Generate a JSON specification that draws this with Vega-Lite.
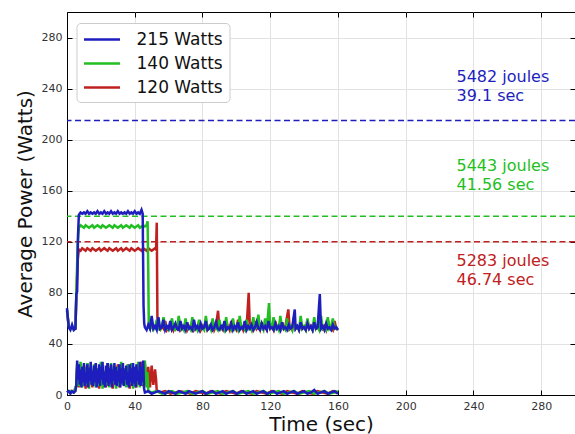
{
"$schema": "https://vega.github.io/schema/vega-lite/v6.json",
"width": 508, "height": 383,
"autosize": {"type": "none"},
"padding": {"left": 67, "top": 12, "right": 0, "bottom": 39},
"background": "white",
"config": {"view": {"stroke": "black", "strokeWidth": 1}, "font": "DejaVu Sans"},
"resolve": {"axis": {"x": "independent", "y": "independent"}},
"datasets": {
"thr": [{"s": "215 Watts", "v": 215}, {"s": "140 Watts", "v": 140}, {"s": "120 Watts", "v": 120}],
"txt": [
{"s": "215 Watts", "t": 230, "p": 248.7, "l": "5482 joules"},
{"s": "215 Watts", "t": 230, "p": 234, "l": "39.1 sec"},
{"s": "140 Watts", "t": 230, "p": 179.3, "l": "5443 joules"},
{"s": "140 Watts", "t": 230, "p": 164.4, "l": "41.56 sec"},
{"s": "120 Watts", "t": 230, "p": 105.1, "l": "5283 joules"},
{"s": "120 Watts", "t": 230, "p": 90, "l": "46.74 sec"}],
"ru": [{"t":0,"p":66},{"t":1,"p":54},{"t":2,"p":52},{"t":3,"p":53},{"t":4,"p":52},{"t":5,"p":52},{"t":5.5,"p":77},{"t":6.3,"p":105},{"t":7,"p":114},{"t":8,"p":113},{"t":9,"p":115},{"t":10,"p":114},{"t":11,"p":113},{"t":12,"p":115},{"t":13,"p":114},{"t":14,"p":113},{"t":15,"p":115},{"t":16,"p":114},{"t":17,"p":113},{"t":18,"p":114},{"t":19,"p":115},{"t":20,"p":113},{"t":21,"p":114},{"t":22,"p":115},{"t":23,"p":114},{"t":24,"p":113},{"t":25,"p":115},{"t":26,"p":114},{"t":27,"p":113},{"t":28,"p":114},{"t":29,"p":115},{"t":30,"p":113},{"t":31,"p":114},{"t":32,"p":115},{"t":33,"p":113},{"t":34,"p":114},{"t":35,"p":115},{"t":36,"p":114},{"t":37,"p":113},{"t":38,"p":115},{"t":39,"p":114},{"t":40,"p":113},{"t":41,"p":114},{"t":42,"p":115},{"t":43,"p":114},{"t":44,"p":113},{"t":45,"p":115},{"t":46,"p":114},{"t":47,"p":113},{"t":48,"p":115},{"t":49,"p":114},{"t":50,"p":113},{"t":51,"p":114},{"t":52,"p":115},{"t":52.6,"p":114},{"t":53,"p":135},{"t":53.4,"p":60},{"t":53.8,"p":52},{"t":55,"p":51},{"t":56,"p":54},{"t":57,"p":52},{"t":58,"p":58},{"t":59,"p":51},{"t":60,"p":53},{"t":61,"p":52},{"t":62,"p":57},{"t":63,"p":51},{"t":64,"p":54},{"t":65,"p":52},{"t":66,"p":59},{"t":67,"p":51},{"t":68,"p":53},{"t":69,"p":52},{"t":70,"p":57},{"t":71,"p":51},{"t":72,"p":54},{"t":73,"p":52},{"t":74,"p":58},{"t":75,"p":51},{"t":76,"p":53},{"t":77,"p":52},{"t":78,"p":57},{"t":79,"p":51},{"t":80,"p":54},{"t":81,"p":52},{"t":82,"p":59},{"t":83,"p":51},{"t":84,"p":53},{"t":85,"p":52},{"t":86,"p":58},{"t":87,"p":51},{"t":88,"p":54},{"t":89.2,"p":66},{"t":90,"p":52},{"t":91,"p":53},{"t":92,"p":51},{"t":93,"p":57},{"t":94,"p":52},{"t":95,"p":54},{"t":96,"p":51},{"t":97,"p":58},{"t":98,"p":52},{"t":99,"p":53},{"t":100,"p":51},{"t":101,"p":59},{"t":102,"p":52},{"t":103,"p":54},{"t":104,"p":51},{"t":105,"p":57},{"t":106,"p":52},{"t":107.3,"p":80},{"t":108,"p":52},{"t":109,"p":53},{"t":110,"p":51},{"t":111,"p":58},{"t":112,"p":52},{"t":113,"p":54},{"t":114,"p":51},{"t":115,"p":57},{"t":116,"p":52},{"t":117,"p":53},{"t":118,"p":51},{"t":119,"p":59},{"t":120,"p":52},{"t":121,"p":54},{"t":122,"p":51},{"t":123,"p":58},{"t":124,"p":52},{"t":125,"p":53},{"t":126,"p":51},{"t":127,"p":57},{"t":128,"p":52},{"t":129,"p":54},{"t":130.7,"p":67},{"t":131.5,"p":52},{"t":132,"p":53},{"t":133,"p":51},{"t":134,"p":58},{"t":135,"p":52},{"t":136,"p":54},{"t":137,"p":51},{"t":138,"p":57},{"t":139,"p":52},{"t":140,"p":53},{"t":141,"p":51},{"t":142,"p":59},{"t":143,"p":52},{"t":144,"p":54},{"t":145,"p":51},{"t":146,"p":58},{"t":147,"p":52},{"t":148,"p":53},{"t":149,"p":51},{"t":150,"p":57},{"t":151,"p":52},{"t":152,"p":54},{"t":153,"p":51},{"t":154,"p":59},{"t":155,"p":52},{"t":156,"p":53},{"t":157,"p":51},{"t":158,"p":58},{"t":159,"p":52},{"t":160,"p":51}],
"rl": [{"t":0,"p":2},{"t":2,"p":3},{"t":4,"p":2},{"t":5.5,"p":7},{"t":6,"p":22},{"t":7,"p":6},{"t":8,"p":24},{"t":9,"p":7},{"t":10,"p":23},{"t":11,"p":5},{"t":12,"p":25},{"t":13,"p":8},{"t":14,"p":22},{"t":15,"p":6},{"t":16,"p":20},{"t":17,"p":9},{"t":18,"p":19},{"t":19,"p":5},{"t":20,"p":21},{"t":21,"p":8},{"t":22,"p":18},{"t":23,"p":6},{"t":24,"p":25},{"t":25,"p":7},{"t":26,"p":23},{"t":27,"p":5},{"t":28,"p":19},{"t":29,"p":8},{"t":30,"p":24},{"t":31,"p":6},{"t":32,"p":23},{"t":33,"p":9},{"t":34,"p":18},{"t":35,"p":7},{"t":36,"p":24},{"t":37,"p":5},{"t":38,"p":23},{"t":39,"p":8},{"t":40,"p":21},{"t":41,"p":6},{"t":42,"p":19},{"t":43,"p":9},{"t":44,"p":26},{"t":45,"p":7},{"t":46,"p":24},{"t":47,"p":8},{"t":48,"p":22},{"t":49,"p":6},{"t":50,"p":23},{"t":51,"p":8},{"t":52,"p":20},{"t":52.6,"p":12},{"t":53,"p":3},{"t":55,"p":2},{"t":58,"p":3},{"t":61,"p":1},{"t":64,"p":2},{"t":67,"p":3},{"t":70,"p":2},{"t":73,"p":1},{"t":76,"p":3},{"t":79,"p":2},{"t":82,"p":1},{"t":85,"p":3},{"t":88,"p":2},{"t":91,"p":1},{"t":94,"p":3},{"t":97,"p":2},{"t":100,"p":1},{"t":103,"p":3},{"t":106,"p":2},{"t":109,"p":1},{"t":112,"p":3},{"t":115,"p":2},{"t":118,"p":1},{"t":121,"p":3},{"t":124,"p":2},{"t":127,"p":1},{"t":130,"p":3},{"t":133,"p":2},{"t":136,"p":1},{"t":139,"p":3},{"t":142,"p":2},{"t":145,"p":1},{"t":148,"p":3},{"t":151,"p":2},{"t":154,"p":1},{"t":157,"p":3},{"t":160,"p":2}],
"gu": [{"t":0,"p":67},{"t":1,"p":54},{"t":2,"p":52},{"t":3,"p":53},{"t":4,"p":51},{"t":5,"p":53},{"t":5.5,"p":78},{"t":6.3,"p":118},{"t":7,"p":131},{"t":8,"p":133},{"t":9,"p":132},{"t":10,"p":131},{"t":11,"p":133},{"t":12,"p":132},{"t":13,"p":131},{"t":14,"p":132},{"t":15,"p":133},{"t":16,"p":131},{"t":17,"p":132},{"t":18,"p":133},{"t":19,"p":132},{"t":20,"p":131},{"t":21,"p":133},{"t":22,"p":132},{"t":23,"p":131},{"t":24,"p":132},{"t":25,"p":133},{"t":26,"p":132},{"t":27,"p":131},{"t":28,"p":133},{"t":29,"p":132},{"t":30,"p":131},{"t":31,"p":132},{"t":32,"p":133},{"t":33,"p":131},{"t":34,"p":132},{"t":35,"p":133},{"t":36,"p":132},{"t":37,"p":131},{"t":38,"p":133},{"t":39,"p":132},{"t":40,"p":131},{"t":41,"p":132},{"t":42,"p":133},{"t":43,"p":131},{"t":44,"p":132},{"t":45,"p":133},{"t":46,"p":132},{"t":47,"p":133},{"t":47.6,"p":136},{"t":48,"p":95},{"t":48.3,"p":55},{"t":49,"p":52},{"t":50,"p":54},{"t":51,"p":51},{"t":52,"p":53},{"t":53,"p":59},{"t":54,"p":52},{"t":55,"p":51},{"t":56,"p":54},{"t":57,"p":61},{"t":58,"p":52},{"t":59,"p":53},{"t":60,"p":51},{"t":61,"p":55},{"t":62,"p":60},{"t":63,"p":52},{"t":64,"p":51},{"t":65,"p":53},{"t":66,"p":62},{"t":67,"p":52},{"t":68,"p":54},{"t":69,"p":51},{"t":70,"p":60},{"t":71,"p":52},{"t":72,"p":53},{"t":73,"p":51},{"t":74,"p":61},{"t":75,"p":52},{"t":76,"p":54},{"t":77,"p":51},{"t":78,"p":59},{"t":79,"p":52},{"t":80,"p":53},{"t":81,"p":51},{"t":82,"p":62},{"t":83,"p":52},{"t":84,"p":54},{"t":85,"p":51},{"t":86,"p":60},{"t":87,"p":52},{"t":88,"p":53},{"t":89,"p":51},{"t":90,"p":59},{"t":91,"p":52},{"t":92,"p":54},{"t":93,"p":51},{"t":94,"p":61},{"t":95,"p":52},{"t":96,"p":53},{"t":97,"p":51},{"t":98,"p":60},{"t":99,"p":52},{"t":100,"p":54},{"t":101,"p":51},{"t":102,"p":62},{"t":103,"p":52},{"t":104,"p":53},{"t":105,"p":51},{"t":106,"p":59},{"t":107,"p":52},{"t":108,"p":54},{"t":109,"p":51},{"t":110,"p":61},{"t":111,"p":52},{"t":112,"p":53},{"t":113,"p":63},{"t":114,"p":52},{"t":115,"p":54},{"t":116,"p":51},{"t":117,"p":60},{"t":118,"p":52},{"t":119.3,"p":72},{"t":120,"p":52},{"t":121,"p":53},{"t":122,"p":61},{"t":123,"p":52},{"t":124,"p":54},{"t":125,"p":51},{"t":126,"p":62},{"t":127,"p":52},{"t":128,"p":53},{"t":129,"p":51},{"t":130,"p":60},{"t":131,"p":52},{"t":132,"p":54},{"t":133,"p":51},{"t":134,"p":61},{"t":135,"p":52},{"t":136,"p":53},{"t":137,"p":51},{"t":138,"p":62},{"t":139,"p":52},{"t":140,"p":54},{"t":141,"p":51},{"t":142,"p":60},{"t":143,"p":52},{"t":144,"p":53},{"t":145,"p":51},{"t":146,"p":61},{"t":147,"p":52},{"t":148,"p":54},{"t":149,"p":51},{"t":150,"p":62},{"t":151,"p":52},{"t":152,"p":53},{"t":153,"p":51},{"t":154,"p":61},{"t":155,"p":52},{"t":156,"p":54},{"t":157,"p":60},{"t":158,"p":52},{"t":159,"p":53},{"t":160,"p":51}],
"gl": [{"t":0,"p":2},{"t":2,"p":3},{"t":4,"p":2},{"t":5.5,"p":8},{"t":6,"p":24},{"t":7,"p":7},{"t":8,"p":26},{"t":9,"p":6},{"t":10,"p":22},{"t":11,"p":8},{"t":12,"p":25},{"t":13,"p":5},{"t":14,"p":20},{"t":15,"p":9},{"t":16,"p":24},{"t":17,"p":6},{"t":18,"p":21},{"t":19,"p":7},{"t":20,"p":26},{"t":21,"p":5},{"t":22,"p":19},{"t":23,"p":8},{"t":24,"p":23},{"t":25,"p":6},{"t":26,"p":25},{"t":27,"p":9},{"t":28,"p":20},{"t":29,"p":5},{"t":30,"p":22},{"t":31,"p":7},{"t":32,"p":26},{"t":33,"p":8},{"t":34,"p":21},{"t":35,"p":6},{"t":36,"p":24},{"t":37,"p":9},{"t":38,"p":25},{"t":39,"p":5},{"t":40,"p":20},{"t":41,"p":7},{"t":42,"p":26},{"t":43,"p":6},{"t":44,"p":22},{"t":45,"p":8},{"t":46,"p":27},{"t":47,"p":6},{"t":47.5,"p":18},{"t":48,"p":3},{"t":50,"p":2},{"t":53,"p":3},{"t":56,"p":1},{"t":59,"p":2},{"t":62,"p":3},{"t":65,"p":1},{"t":68,"p":2},{"t":71,"p":3},{"t":74,"p":1},{"t":77,"p":2},{"t":80,"p":3},{"t":83,"p":1},{"t":86,"p":2},{"t":89,"p":3},{"t":92,"p":1},{"t":95,"p":2},{"t":98,"p":3},{"t":101,"p":1},{"t":104,"p":2},{"t":107,"p":3},{"t":110,"p":1},{"t":113,"p":2},{"t":116,"p":3},{"t":119,"p":1},{"t":122,"p":2},{"t":125,"p":3},{"t":128,"p":1},{"t":131,"p":2},{"t":134,"p":3},{"t":137,"p":1},{"t":140,"p":2},{"t":143,"p":3},{"t":146,"p":1},{"t":149,"p":2},{"t":152,"p":3},{"t":155,"p":1},{"t":158,"p":2},{"t":160,"p":3}],
"bu": [{"t":0,"p":68},{"t":1,"p":53},{"t":2,"p":51},{"t":3,"p":55},{"t":4,"p":51},{"t":5,"p":52},{"t":5.5,"p":79},{"t":6,"p":81},{"t":6.5,"p":125},{"t":7,"p":141},{"t":8,"p":143},{"t":9,"p":142},{"t":10,"p":143},{"t":11,"p":142},{"t":12,"p":144},{"t":13,"p":142},{"t":14,"p":143},{"t":15,"p":142},{"t":16,"p":143},{"t":17,"p":142},{"t":18,"p":144},{"t":19,"p":142},{"t":20,"p":143},{"t":21,"p":142},{"t":22,"p":144},{"t":23,"p":142},{"t":24,"p":143},{"t":25,"p":142},{"t":26,"p":144},{"t":27,"p":142},{"t":28,"p":143},{"t":29,"p":142},{"t":30,"p":144},{"t":31,"p":142},{"t":32,"p":143},{"t":33,"p":142},{"t":34,"p":143},{"t":35,"p":142},{"t":36,"p":144},{"t":37,"p":142},{"t":38,"p":143},{"t":39,"p":142},{"t":40,"p":144},{"t":41,"p":142},{"t":42,"p":143},{"t":43,"p":142},{"t":44,"p":145},{"t":44.7,"p":142},{"t":45.2,"p":70},{"t":45.6,"p":56},{"t":46,"p":53},{"t":47,"p":51},{"t":48,"p":55},{"t":49,"p":52},{"t":50,"p":62},{"t":51,"p":52},{"t":52,"p":54},{"t":53,"p":51},{"t":54,"p":61},{"t":55,"p":52},{"t":56,"p":53},{"t":57,"p":59},{"t":58,"p":51},{"t":59,"p":54},{"t":60,"p":52},{"t":61,"p":58},{"t":62,"p":51},{"t":63,"p":53},{"t":64,"p":56},{"t":65,"p":52},{"t":66,"p":51},{"t":67,"p":58},{"t":68,"p":52},{"t":69,"p":54},{"t":70,"p":51},{"t":71,"p":57},{"t":72,"p":52},{"t":73,"p":53},{"t":74,"p":51},{"t":75,"p":59},{"t":76,"p":52},{"t":77,"p":54},{"t":78,"p":51},{"t":79,"p":56},{"t":80,"p":52},{"t":81,"p":53},{"t":82,"p":58},{"t":83,"p":51},{"t":84,"p":52},{"t":85,"p":55},{"t":86,"p":51},{"t":87,"p":53},{"t":88,"p":57},{"t":89,"p":52},{"t":90,"p":51},{"t":91,"p":54},{"t":92,"p":52},{"t":93,"p":58},{"t":94,"p":51},{"t":95,"p":53},{"t":96,"p":52},{"t":97,"p":56},{"t":98,"p":51},{"t":99,"p":54},{"t":100,"p":52},{"t":101,"p":57},{"t":102,"p":51},{"t":103,"p":53},{"t":104,"p":52},{"t":105,"p":58},{"t":106,"p":51},{"t":107,"p":54},{"t":108,"p":52},{"t":109,"p":55},{"t":110,"p":51},{"t":111,"p":53},{"t":112,"p":57},{"t":113,"p":52},{"t":114,"p":51},{"t":115,"p":56},{"t":116,"p":52},{"t":117,"p":54},{"t":118,"p":51},{"t":119,"p":58},{"t":120,"p":52},{"t":121,"p":53},{"t":122,"p":51},{"t":123,"p":56},{"t":124,"p":52},{"t":125,"p":54},{"t":126,"p":51},{"t":127,"p":57},{"t":128,"p":52},{"t":129,"p":53},{"t":130,"p":51},{"t":131,"p":55},{"t":132,"p":52},{"t":133,"p":53},{"t":134.5,"p":67},{"t":135,"p":52},{"t":136,"p":54},{"t":137,"p":51},{"t":138,"p":57},{"t":139,"p":52},{"t":140,"p":53},{"t":141,"p":51},{"t":142,"p":56},{"t":143,"p":52},{"t":144,"p":54},{"t":145,"p":51},{"t":146,"p":57},{"t":147,"p":52},{"t":148,"p":53},{"t":149.3,"p":79},{"t":150,"p":52},{"t":151,"p":54},{"t":152,"p":51},{"t":153,"p":56},{"t":154,"p":52},{"t":155,"p":53},{"t":156,"p":51},{"t":157,"p":55},{"t":158,"p":52},{"t":159,"p":53},{"t":160,"p":51}],
"bl": [{"t":0,"p":2},{"t":1,"p":3},{"t":2,"p":1},{"t":3,"p":3},{"t":4,"p":2},{"t":5,"p":3},{"t":5.5,"p":8},{"t":6,"p":27},{"t":6.5,"p":12},{"t":7,"p":24},{"t":7.5,"p":8},{"t":8,"p":20},{"t":8.5,"p":6},{"t":9,"p":22},{"t":9.5,"p":10},{"t":10,"p":25},{"t":10.5,"p":7},{"t":11,"p":18},{"t":11.5,"p":9},{"t":12,"p":24},{"t":12.5,"p":6},{"t":13,"p":21},{"t":13.5,"p":11},{"t":14,"p":26},{"t":14.5,"p":8},{"t":15,"p":19},{"t":15.5,"p":7},{"t":16,"p":23},{"t":16.5,"p":10},{"t":17,"p":25},{"t":17.5,"p":6},{"t":18,"p":20},{"t":18.5,"p":9},{"t":19,"p":24},{"t":19.5,"p":7},{"t":20,"p":22},{"t":20.5,"p":12},{"t":21,"p":26},{"t":21.5,"p":8},{"t":22,"p":18},{"t":22.5,"p":6},{"t":23,"p":23},{"t":23.5,"p":10},{"t":24,"p":25},{"t":24.5,"p":7},{"t":25,"p":21},{"t":25.5,"p":9},{"t":26,"p":24},{"t":26.5,"p":6},{"t":27,"p":20},{"t":27.5,"p":11},{"t":28,"p":25},{"t":28.5,"p":8},{"t":29,"p":22},{"t":29.5,"p":7},{"t":30,"p":19},{"t":30.5,"p":10},{"t":31,"p":24},{"t":31.5,"p":6},{"t":32,"p":21},{"t":32.5,"p":9},{"t":33,"p":25},{"t":33.5,"p":7},{"t":34,"p":20},{"t":34.5,"p":12},{"t":35,"p":23},{"t":35.5,"p":8},{"t":36,"p":18},{"t":36.5,"p":6},{"t":37,"p":24},{"t":37.5,"p":10},{"t":38,"p":21},{"t":38.5,"p":7},{"t":39,"p":25},{"t":39.5,"p":9},{"t":40,"p":22},{"t":40.5,"p":6},{"t":41,"p":24},{"t":41.5,"p":11},{"t":42,"p":19},{"t":42.5,"p":8},{"t":43,"p":26},{"t":43.5,"p":7},{"t":44,"p":22},{"t":44.5,"p":10},{"t":45,"p":27},{"t":45.5,"p":5},{"t":46,"p":2},{"t":48,"p":3},{"t":50,"p":1},{"t":52,"p":2},{"t":54,"p":3},{"t":56,"p":2},{"t":58,"p":1},{"t":60,"p":3},{"t":62,"p":2},{"t":64,"p":1},{"t":66,"p":3},{"t":68,"p":2},{"t":70,"p":1},{"t":72,"p":3},{"t":74,"p":2},{"t":76,"p":1},{"t":78,"p":2},{"t":80,"p":3},{"t":82,"p":1},{"t":84,"p":2},{"t":86,"p":3},{"t":88,"p":1},{"t":90,"p":2},{"t":92,"p":3},{"t":94,"p":1},{"t":96,"p":2},{"t":98,"p":3},{"t":100,"p":1},{"t":102,"p":2},{"t":104,"p":3},{"t":106,"p":1},{"t":108,"p":2},{"t":110,"p":3},{"t":112,"p":1},{"t":114,"p":2},{"t":116,"p":3},{"t":118,"p":1},{"t":120,"p":2},{"t":122,"p":3},{"t":124,"p":1},{"t":126,"p":2},{"t":128,"p":3},{"t":130,"p":1},{"t":132,"p":2},{"t":134,"p":3},{"t":136,"p":1},{"t":138,"p":2},{"t":140,"p":3},{"t":142,"p":1},{"t":144,"p":2},{"t":146,"p":4},{"t":148,"p":1},{"t":150,"p":2},{"t":152,"p":3},{"t":154,"p":1},{"t":156,"p":2},{"t":158,"p":3},{"t":160,"p":1}]
},
"layer": [
{"data": {"name": "thr"},
 "mark": {"type": "rule", "strokeDash": [6, 3.5], "strokeWidth": 1.5},
 "encoding": {
  "y": {"field": "v", "type": "quantitative", "scale": {"domain": [0, 300], "nice": false}, "axis": null},
  "color": {"field": "s", "type": "nominal", "title": null, "scale": {"domain": ["215 Watts", "140 Watts", "120 Watts"], "range": ["#1e1ebe", "#22bf22", "#bf2020"]}}}},
{"data": {"name": "rl"},
 "mark": {"type": "line", "strokeWidth": 2.5},
 "encoding": {
  "x": {"field": "t", "type": "quantitative", "scale": {"domain": [0, 300], "nice": false},
   "axis": {"orient": "bottom", "values": [0, 40, 80, 120, 160, 200, 240, 280], "title": "Time (sec)", "titleFontSize": 20, "titleFontWeight": "normal", "titleColor": "#111", "titlePadding": 3, "labelFontSize": 11, "labelColor": "#333", "labelPadding": 10, "labelFlush": false, "tickSize": -5, "tickColor": "black", "domainColor": "black", "grid": true, "gridColor": "#e2e2e2"}},
  "y": {"field": "p", "type": "quantitative",
   "axis": {"orient": "left", "values": [0, 40, 80, 120, 160, 200, 240, 280], "title": "Average Power (Watts)", "titleFontSize": 20, "titleFontWeight": "normal", "titleColor": "#111", "titlePadding": 6, "labelFontSize": 11, "labelColor": "#333", "labelPadding": 10, "labelFlush": false, "tickSize": -5, "tickColor": "black", "domainColor": "black", "grid": true, "gridColor": "#e2e2e2"}},
  "color": {"datum": "120 Watts", "title": null,
   "legend": {"orient": "none", "legendX": 9.5, "legendY": 11, "title": null, "symbolType": "M-1,0H3", "symbolSize": 324, "symbolStrokeWidth": 2.5, "symbolFillColor": "transparent", "labelFontSize": 17, "labelColor": "#111", "labelFont": "DejaVu Sans", "labelOffset": 33, "rowPadding": 5, "padding": 6, "strokeColor": "#cccccc", "fillColor": "white", "cornerRadius": 4, "values": ["215 Watts", "140 Watts", "120 Watts"]}}}},
{"data": {"name": "ru"},
 "mark": {"type": "line", "strokeWidth": 2.5},
 "encoding": {
  "x": {"field": "t", "type": "quantitative", "axis": {"orient": "top", "values": [0, 40, 80, 120, 160, 200, 240, 280], "labels": false, "title": null, "grid": false, "domain": false, "tickSize": -5, "tickColor": "black"}},
  "y": {"field": "p", "type": "quantitative", "axis": {"orient": "right", "values": [0, 40, 80, 120, 160, 200, 240, 280], "labels": false, "title": null, "grid": false, "domain": false, "tickSize": -5, "tickColor": "black"}},
  "color": {"datum": "120 Watts", "title": null}}},
{"data": {"name": "gl"},
 "mark": {"type": "line", "strokeWidth": 2.5},
 "encoding": {"x": {"field": "t", "type": "quantitative", "axis": null}, "y": {"field": "p", "type": "quantitative", "axis": null}, "color": {"datum": "140 Watts", "title": null}}},
{"data": {"name": "gu"},
 "mark": {"type": "line", "strokeWidth": 2.5},
 "encoding": {"x": {"field": "t", "type": "quantitative", "axis": null}, "y": {"field": "p", "type": "quantitative", "axis": null}, "color": {"datum": "140 Watts", "title": null}}},
{"data": {"name": "bl"},
 "mark": {"type": "line", "strokeWidth": 2.5},
 "encoding": {"x": {"field": "t", "type": "quantitative", "axis": null}, "y": {"field": "p", "type": "quantitative", "axis": null}, "color": {"datum": "215 Watts", "title": null}}},
{"data": {"name": "bu"},
 "mark": {"type": "line", "strokeWidth": 2.5},
 "encoding": {"x": {"field": "t", "type": "quantitative", "axis": null}, "y": {"field": "p", "type": "quantitative", "axis": null}, "color": {"datum": "215 Watts", "title": null}}},
{"data": {"name": "txt"},
 "mark": {"type": "text", "align": "left", "baseline": "middle", "fontSize": 16, "font": "DejaVu Sans"},
 "encoding": {"x": {"field": "t", "type": "quantitative", "axis": null}, "y": {"field": "p", "type": "quantitative", "axis": null}, "text": {"field": "l"}, "color": {"field": "s", "type": "nominal", "title": null}}}
]
}
